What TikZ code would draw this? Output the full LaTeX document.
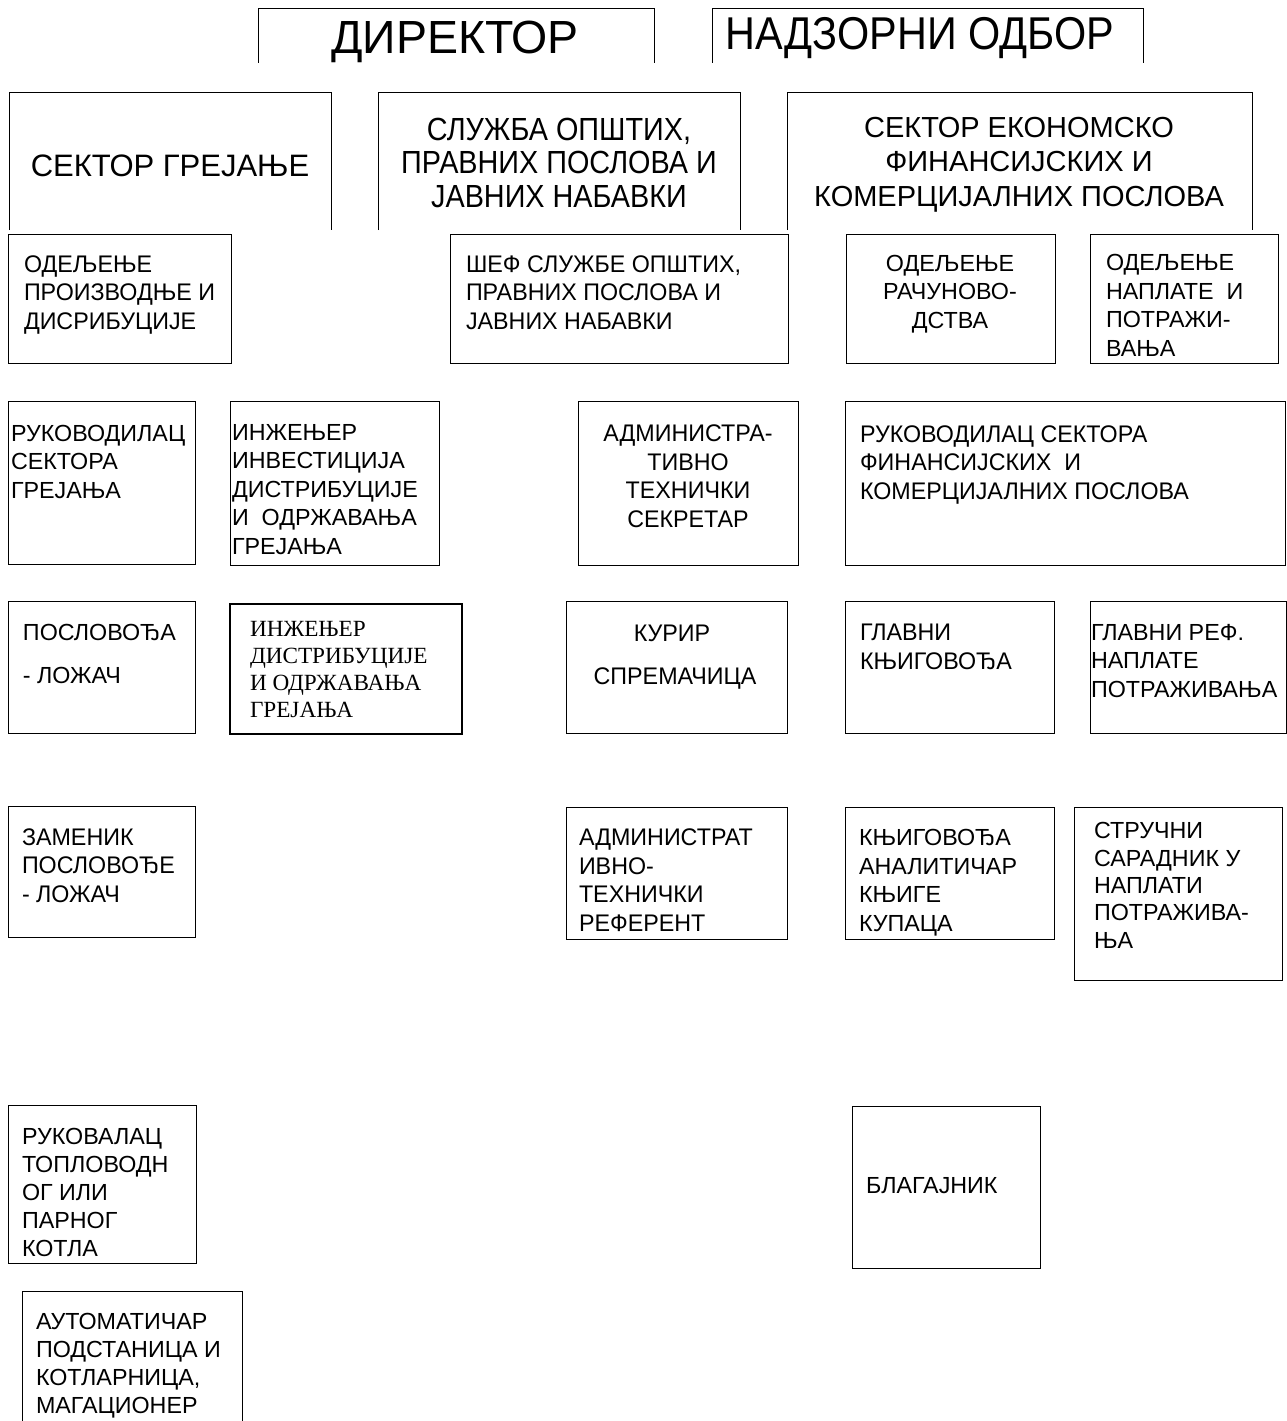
\documentclass[tikz,border=0pt]{standalone}
\usepackage{fontspec}
\setmainfont{Liberation Sans}
\newfontfamily\narA[FakeStretch=0.97]{Liberation Sans}
\newfontfamily\narB[FakeStretch=0.9]{Liberation Sans}
\newfontfamily\ser{Liberation Serif}
\tikzset{
  frame/.style={draw=black, line width=0.9pt, anchor=north west, inner sep=0pt, outer sep=0pt},
  thickframe/.style={frame, line width=1.8pt},
  openframe/.style={draw=none, anchor=north west, inner sep=0pt, outer sep=0pt},
  edge/.style={draw=black, line width=0.9pt},
  lbl/.style={inner sep=0pt, outer sep=0pt, align=left, anchor=base west},
  clbl/.style={inner sep=0pt, outer sep=0pt, align=center, anchor=base},
  body/.style={font=\fontsize{23.3}{28.5}\selectfont},
  nbody/.style={font=\narA\fontsize{24}{28.5}\selectfont},
  sbody/.style={font=\ser\fontsize{23.2}{27}\selectfont},
  title/.style={font=\fontsize{46.5}{50}\selectfont},
  ntitle/.style={font=\narB\fontsize{46}{50}\selectfont},
  nhead/.style={font=\narB\fontsize{32}{33.5}\selectfont},
  head/.style={font=\fontsize{29}{34.5}\selectfont},
  head2/.style={font=\fontsize{31}{34}\selectfont},
}
\newcommand\bx[6][frame]{\node[#1, minimum width={(#5-#3)*1pt}, minimum height={(#6-#4)*1pt}] (#2) at (#3,#4) {};}
\newcommand\openbx[5]{\node[openframe, minimum width={(#4-#2)*1pt}, minimum height={(#5-#3)*1pt}] (#1) at (#2,#3) {};
  \draw[edge] (#1.south west) -- (#1.north west) -- (#1.north east) -- (#1.south east);}
\begin{document}
\begin{tikzpicture}[x=1pt,y=-1pt]
\useasboundingbox (0,0) rectangle (1287,1421);
% top (base anchor = baseline of the last line)
\openbx{director}{258}{8}{654}{63}
\openbx{board}{712}{8}{1143}{63}
\node[clbl, title] (directort) at (455,53) {ДИРЕКТОР};
\node[clbl, ntitle] (boardt) at (920,50) {НАДЗОРНИ ОДБОР};
% sectors
\openbx{secheat}{9}{92}{331}{230}
\openbx{service}{378}{92}{740}{230}
\openbx{econ}{787}{92}{1252}{230}
\node[clbl, head2] (secheatt) at (170,176) {СЕКТОР ГРЕЈАЊЕ};
\node[clbl, nhead] (servicet) at (559,207) {СЛУЖБА ОПШТИХ,\\ПРАВНИХ ПОСЛОВА И\\ЈАВНИХ НАБАВКИ};
\node[clbl, head] (econt) at (1019,206) {СЕКТОР ЕКОНОМСКО\\ФИНАНСИЈСКИХ И\\КОМЕРЦИЈАЛНИХ ПОСЛОВА};
% row 2
\bx{prod}{8}{234}{231}{363}
\bx{chief}{450}{234}{788}{363}
\bx{acct}{846}{234}{1055}{363}
\bx{coll}{1090}{234}{1278}{363}
\node[lbl, nbody] (prodt) at (24,329) {ОДЕЉЕЊЕ\\ПРОИЗВОДЊЕ И\\ДИСРИБУЦИЈЕ};
\node[lbl, nbody] (chieft) at (466,329) {ШЕФ СЛУЖБЕ ОПШТИХ,\\ПРАВНИХ ПОСЛОВА И\\ЈАВНИХ НАБАВКИ};
\node[clbl, body] (acctt) at (950,328) {ОДЕЉЕЊЕ\\РАЧУНОВО-\\ДСТВА};
\node[lbl, body] (collt) at (1106,356) {ОДЕЉЕЊЕ\\НАПЛАТЕ\ \ И\\ПОТРАЖИ-\\ВАЊА};
% row 3
\bx{headheat}{8}{401}{195}{564}
\bx{enginv}{230}{401}{439}{565}
\bx{secr}{578}{401}{798}{565}
\bx{headfin}{845}{401}{1285}{565}
\node[lbl, body] (headheatt) at (11,498) {РУКОВОДИЛАЦ\\СЕКТОРА\\ГРЕЈАЊА};
\node[lbl, body] (enginvt) at (232,554) {ИНЖЕЊЕР\\ИНВЕСТИЦИЈА\\ДИСТРИБУЦИЈЕ\\И\ \ ОДРЖАВАЊА\\ГРЕЈАЊА};
\node[clbl, nbody] (secrt) at (688,527) {АДМИНИСТРА-\\ТИВНО\\ТЕХНИЧКИ\\СЕКРЕТАР};
\node[lbl, nbody] (headfint) at (860,499) {РУКОВОДИЛАЦ СЕКТОРА\\ФИНАНСИЈСКИХ\ \ И\\КОМЕРЦИЈАЛНИХ ПОСЛОВА};
% row 4
\bx{foreman}{8}{601}{195}{733}
\bx[thickframe]{engdist}{230}{604}{462}{734}
\bx{courier}{566}{601}{787}{733}
\bx{chiefbk}{845}{601}{1054}{733}
\bx{reffin}{1090}{601}{1286}{733}
\node[lbl, body] (foremant) at (23,683) {ПОСЛОВОЂА\\[14.5pt]- ЛОЖАЧ};
\node[lbl, sbody] (engdistt) at (250,717) {ИНЖЕЊЕР\\ДИСТРИБУЦИЈЕ\\И ОДРЖАВАЊА\\ГРЕЈАЊА};
\node[clbl, nbody] (couriert) at (672,641) {КУРИР};
\node[clbl, nbody] (cleanert) at (675,684) {СПРЕМАЧИЦА};
\node[lbl, nbody] (chiefbkt) at (860,669) {ГЛАВНИ\\КЊИГОВОЂА};
\node[lbl, body] (reffint) at (1091,697) {ГЛАВНИ РЕФ.\\НАПЛАТЕ\\ПОТРАЖИВАЊА};
% row 5
\bx{deputy}{8}{806}{195}{937}
\bx{adminref}{566}{807}{787}{939}
\bx{bookk}{845}{807}{1054}{939}
\bx{assoc}{1074}{807}{1282}{980}
\node[lbl, nbody] (deputyt) at (22,902) {ЗАМЕНИК\\ПОСЛОВОЂЕ\\- ЛОЖАЧ};
\node[lbl, nbody] (adminreft) at (579,931) {АДМИНИСТРАТ\\ИВНО-\\ТЕХНИЧКИ\\РЕФЕРЕНТ};
\node[lbl, body] (bookkt) at (859,931) {КЊИГОВОЂА\\АНАЛИТИЧАР\\КЊИГЕ\\КУПАЦА};
\node[lbl, font=\fontsize{23.3}{27.3}\selectfont] (assoct) at (1094,948) {СТРУЧНИ\\САРАДНИК У\\НАПЛАТИ\\ПОТРАЖИВА-\\ЊА};
% row 6
\bx{boiler}{8}{1105}{196}{1263}
\bx{cashier}{852}{1106}{1040}{1268}
\openbx{auto}{22}{1291}{242}{1421}
\node[lbl, font=\fontsize{23.3}{28}\selectfont] (boilert) at (22,1256) {РУКОВАЛАЦ\\ТОПЛОВОДН\\ОГ ИЛИ\\ПАРНОГ\\КОТЛА};
\node[lbl, body] (cashiert) at (866,1193) {БЛАГАЈНИК};
\node[lbl, font=\fontsize{23.3}{28}\selectfont] (autot) at (36,1413) {АУТОМАТИЧАР\\ПОДСТАНИЦА И\\КОТЛАРНИЦА,\\МАГАЦИОНЕР};
\end{tikzpicture}
\end{document}
